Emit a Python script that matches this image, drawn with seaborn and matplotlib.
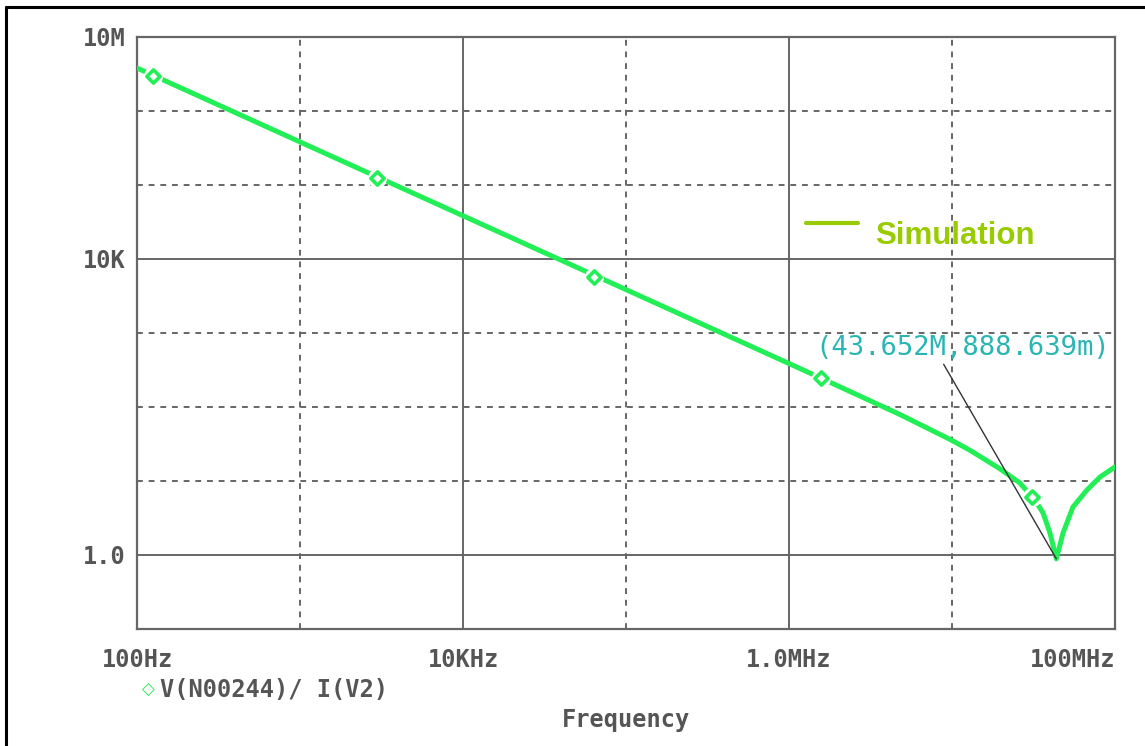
import matplotlib
matplotlib.use("Agg")
import matplotlib.pyplot as plt
from matplotlib.lines import Line2D
import seaborn as sns
import pandas as pd

# ---- data ----
freq_hz = [1e2, 1e3, 1e4, 1e5, 1e6, 1.57e6, 4.8e6, 6.37e6, 9.72e6, 1.29e7, 1.97e7,
           2.61e7, 3.1e7, 3.4e7, 3.62e7, 3.99e7, 4.3652e7, 4.8e7, 5.52e7, 6.73e7,
           8.09e7, 1e8]
impedance = [3.81e6, 3.82e5, 3.84e4, 3.86e3, 387, 246, 79, 58, 36.5, 26, 14.6,
             9.4, 6.1, 4.6, 3.7, 1.98, 0.888639, 1.98, 4.45, 7.56,
             11.3, 15.5]

marker_freq = [125, 2965, 63.7e3, 1.57e6, 30.8e6]
marker_z = [2.97e6, 124e3, 5.7e3, 246, 6.13]

cursor_freq = 43.652e6
cursor_z = 0.888639
cursor_label = "(43.652M,888.639m)"

x_major = [1e2, 1e4, 1e6, 1e8]
x_major_labels = ["100Hz", "10KHz", "1.0MHz", "100MHz"]
x_minor = [1e3, 1e5, 1e7]
y_major = [1.0, 1e4, 1e7]
y_major_labels = ["1.0", "10K", "10M"]
y_minor = [10, 100, 1e3, 1e5, 1e6]

trace_name = "V(N00244)/ I(V2)"
sim_label = "Simulation"
x_title = "Frequency"

# ---- styling ----
sns.set_style("white")
plt.rcParams["font.family"] = ["DejaVu Sans Mono", "DejaVu Sans"]

W, H = 1145, 746
fig = plt.figure(figsize=(W / 100, H / 100), dpi=100)
L, R, T, B = 137, 1115, 37, 629
ax = fig.add_axes([L / W, 1 - B / H, (R - L) / W, (B - T) / H])

GREEN = "#22EE55"
GRAY = "#666666"
TXT = "#555555"
FS = 17

df = pd.DataFrame({"freq": freq_hz, "z": impedance})
mk = pd.DataFrame({"freq": marker_freq, "z": marker_z})

sns.lineplot(data=df, x="freq", y="z", ax=ax, color=GREEN, lw=3.6, zorder=3)
sns.scatterplot(data=mk, x="freq", y="z", ax=ax, marker="o", s=190,
                color="white", linewidth=0, zorder=4)
sns.scatterplot(data=mk, x="freq", y="z", ax=ax, marker="D", s=45,
                facecolor="white", edgecolor=GREEN, linewidth=2.6, zorder=5)

ax.set_xscale("log")
ax.set_yscale("log")
ax.set_xlim(1e2, 1e8)
ax.set_ylim(0.1, 1e7)

ax.set_xticks(x_major)
ax.set_xticklabels(x_major_labels)
ax.set_xticks(x_minor, minor=True)
ax.set_xticklabels([], minor=True)
ax.set_yticks(y_major)
ax.set_yticklabels(y_major_labels)
ax.set_yticks(y_minor, minor=True)
ax.set_yticklabels([], minor=True)

ax.tick_params(which="major", direction="out", length=7, width=1.4, color=GRAY,
               labelsize=FS, labelcolor=TXT)
ax.tick_params(axis="x", which="major", pad=7)
ax.tick_params(axis="y", which="major", pad=1)
ax.tick_params(which="minor", length=0)
for lab in ax.get_xticklabels() + ax.get_yticklabels():
    lab.set_fontweight("bold")
ax.get_xticklabels()[-1].set_horizontalalignment("right")

ax.grid(which="major", color=GRAY, lw=1.4, ls="-", zorder=1)
ax.grid(which="minor", color=GRAY, lw=1.4, ls=(0, (3, 3)), zorder=1)
ax.set_axisbelow(True)
for sp in ax.spines.values():
    sp.set_color(GRAY)
    sp.set_linewidth(1.6)
    sp.set_visible(True)

ax.set_ylabel("")
ax.set_xlabel(x_title, fontsize=FS, color=TXT, fontweight="bold")
ax.xaxis.set_label_coords(0.5, (B - 720) / (B - T))
ax.xaxis.label.set_verticalalignment("center")

# cursor annotation
ax.annotate(cursor_label, xy=(cursor_freq, cursor_z),
            xytext=((815 - L) / (R - L), (B - 348) / (B - T)),
            textcoords="axes fraction", ha="left", va="center",
            fontsize=19.5, color="#2AB5B5",
            arrowprops=dict(arrowstyle="-", color="#333333", lw=1,
                            relpos=(0.43, 0.0), shrinkA=0, shrinkB=0),
            zorder=6)

# "Simulation" label
fig.add_artist(Line2D([806 / W, 858 / W], [1 - 223 / H] * 2, color="#99CC00", lw=3))
fig.text(875 / W, 1 - 236 / H, sim_label, family="Liberation Sans",
         fontweight="bold", fontsize=22.5, color="#99CC00", va="center", ha="left")

# trace legend
fig.text(148 / W, 1 - 690 / H, "\u25C7", family="DejaVu Sans", fontsize=12,
         color=GREEN, ha="center", va="center")
fig.text(160 / W, 1 - 690 / H, trace_name, fontsize=FS, fontweight="bold",
         color=TXT, ha="left", va="center")

# outer frame (top and left edges)
fig.add_artist(Line2D([6 / W, 1], [1 - 7 / H] * 2, color="black", lw=2.2))
fig.add_artist(Line2D([6 / W] * 2, [0, 1 - 7 / H], color="black", lw=2.2))

fig.savefig("out.png", dpi=100)
